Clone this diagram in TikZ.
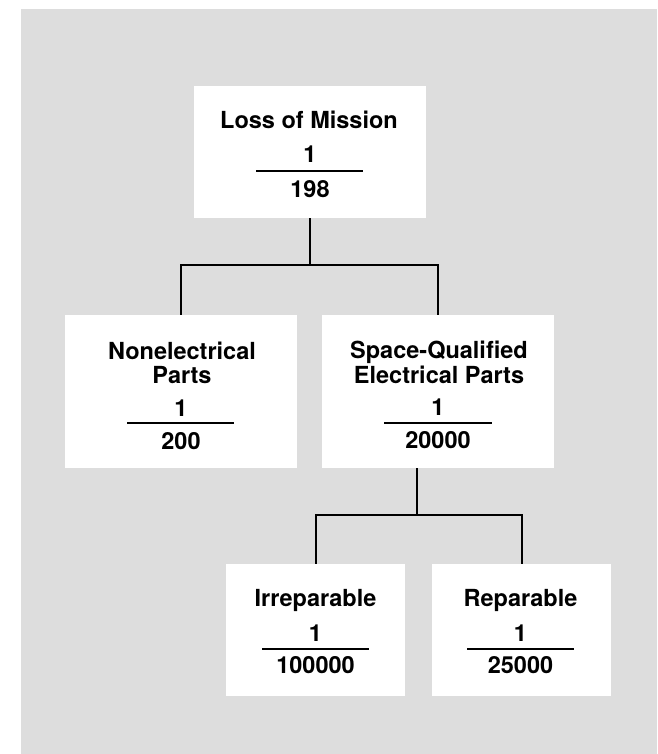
\documentclass[tikz,border=0pt]{standalone}
\usepackage{fontspec}
\setmainfont{TeX Gyre Heros}
\usetikzlibrary{calc}
\definecolor{bggray}{HTML}{DDDDDD}
\tikzset{
  box/.style={fill=white, draw=none, inner sep=0pt},
  lbl/.style={anchor=base, inner sep=0pt, font=\fontsize{23.5}{24}\selectfont\bfseries},
  conn/.style={line width=2pt, draw=black},
  fracline/.style={line width=2pt, draw=black}
}
\begin{document}
\begin{tikzpicture}[x=1pt,y=-1pt]
\useasboundingbox (0,0) rectangle (657,754);
\fill[bggray] (21,9) rectangle (657,754);

% boxes
\node[box, minimum width=232pt, minimum height=132pt] (top) at (310,152) {};
\node[box, minimum width=232pt, minimum height=153pt] (nel) at (181,391.5) {};
\node[box, minimum width=232pt, minimum height=153pt] (sqe) at (438,391.5) {};
\node[box, minimum width=179pt, minimum height=132pt] (irr) at (315.5,630) {};
\node[box, minimum width=179pt, minimum height=132pt] (rep) at (521.5,630) {};

% connectors
\coordinate (b1) at (310,265);
\draw[conn] (top.south) -- (b1);
\draw[conn] (b1) -| (nel.north);
\draw[conn] (b1) -| (sqe.north);
\coordinate (b2) at (417,515);
\draw[conn] (b2 |- sqe.south) -- (b2);
\draw[conn] (b2) -| (irr.north);
\draw[conn] (b2) -| (rep.north);

% top box text
\node[lbl] (t1) at (309,129) {Loss of Mission};
\node[lbl] (t2) at (310,163) {1};
\coordinate (tl1) at (256,171); \coordinate (tl2) at (363,171);
\draw[fracline] (tl1) -- (tl2);
\node[lbl] (t3) at (310,197) {198};

% nonelectrical
\node[lbl] (n1) at (182,359) {Nonelectrical};
\node[lbl] (n2) at (182,383) {Parts};
\node[lbl] (n3) at (181,416) {1};
\coordinate (nl1) at (127,423); \coordinate (nl2) at (234,423);
\draw[fracline] (nl1) -- (nl2);
\node[lbl] (n4) at (181,449) {200};

% space-qualified
\node[lbl] (s1) at (439,358) {Space-Qualified};
\node[lbl] (s2) at (439,383) {Electrical Parts};
\node[lbl] (s3) at (438,415) {1};
\coordinate (sl1) at (384,423); \coordinate (sl2) at (492,423);
\draw[fracline] (sl1) -- (sl2);
\node[lbl] (s4) at (438,448) {20000};

% irreparable
\node[lbl] (i1) at (315.5,606) {Irreparable};
\node[lbl] (i2) at (315.5,641) {1};
\coordinate (il1) at (262,649); \coordinate (il2) at (369,649);
\draw[fracline] (il1) -- (il2);
\node[lbl] (i3) at (315.5,673) {100000};

% reparable
\node[lbl] (r1) at (520.5,606) {Reparable};
\node[lbl] (r2) at (520.5,641) {1};
\coordinate (rl1) at (467,649); \coordinate (rl2) at (574,649);
\draw[fracline] (rl1) -- (rl2);
\node[lbl] (r3) at (520.5,673) {25000};
\end{tikzpicture}
\end{document}
